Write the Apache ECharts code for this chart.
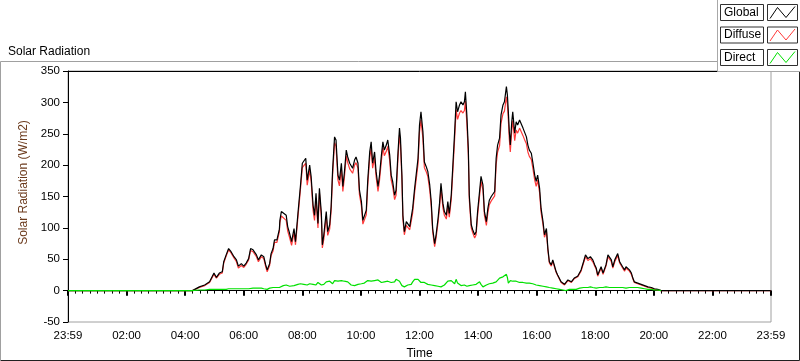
<!DOCTYPE html>
<html>
<head>
<meta charset="utf-8">
<script src="https://cdn.jsdelivr.net/npm/echarts@6/dist/echarts.min.js"></script>
<style>
  html, body { margin: 0; padding: 0; background: #fff; }
  #chart { width: 800px; height: 361px; }
</style>
</head>
<body>
<div id="chart"></div>
<script>
// ---- data (W/m2) ----
const times = [
  '00:00','04:15','04:29','04:40','04:50','04:59','05:04','05:10','05:16','05:19',
  '05:24','05:29','05:34','05:40','05:45','05:49','05:55','06:00','06:05','06:10',
  '06:14','06:19','06:26','06:30','06:36','06:41','06:45','06:48','06:53','06:56',
  '07:00','07:03','07:08','07:11','07:13','07:14','07:17','07:21','07:27','07:30',
  '07:34','07:38','07:43','07:46','07:51','07:56','08:00','08:03','08:07','08:10',
  '08:15','08:18','08:22','08:25','08:28','08:32','08:35','08:39','08:41','08:44',
  '08:49','08:52','08:56','08:59','09:02','09:06','09:09','09:13','09:16','09:20',
  '09:23','09:26','09:30','09:33','09:37','09:40','09:43','09:47','09:50','09:54',
  '09:57','10:01','10:04','10:07','10:11','10:14','10:18','10:21','10:24','10:28',
  '10:31','10:35','10:38','10:42','10:45','10:48','10:52','10:55','10:59','11:02',
  '11:05','11:09','11:12','11:16','11:19','11:21','11:24','11:26','11:29','11:33',
  '11:36','11:40','11:43','11:46','11:50','11:53','11:57','12:00','12:03','12:07',
  '12:10','12:14','12:17','12:21','12:24','12:27','12:31','12:34','12:38','12:41',
  '12:44','12:48','12:51','12:55','12:58','13:01','13:05','13:08','13:12','13:15',
  '13:18','13:22','13:25','13:29','13:32','13:34','13:37','13:40','13:42','13:46',
  '13:49','13:53','13:56','13:59','14:03','14:06','14:10','14:13','14:17','14:20',
  '14:23','14:27','14:30','14:34','14:37','14:40','14:44','14:47','14:51','14:54',
  '14:58','15:00','15:02','15:04','15:06','15:09','15:11','15:15','15:18','15:21',
  '15:25','15:28','15:32','15:35','15:39','15:42','15:45','15:49','15:52','15:56',
  '15:59','16:02','16:06','16:09','16:13','16:16','16:20','16:23','16:26','16:30',
  '16:33','16:37','16:40','16:43','16:47','16:50','16:54','16:57','17:00','17:04',
  '17:07','17:11','17:14','17:17','17:21','17:24','17:28','17:31','17:36','17:40',
  '17:45','17:50','17:55','17:59','18:02','18:05','18:09','18:12','18:16','18:19',
  '18:22','18:26','18:29','18:33','18:36','18:40','18:43','18:46','18:50','18:53',
  '18:56','19:00','19:03','19:07','19:10','19:14','19:17','19:20','19:27','19:34',
  '19:41','19:48','19:55','20:01','20:08','20:15','23:59'
];

const globalVals = [
  0,0,6,9,14,28,21,28,30,46,
  57,67,62,54,49,39,43,39,44,51,
  67,65,57,49,57,54,41,33,43,59,
  67,81,81,82,98,112,126,124,120,102,
  91,78,99,78,123,166,203,205,211,176,
  200,182,136,120,155,107,163,123,73,89,
  126,94,105,134,192,245,240,184,176,203,
  166,187,224,213,203,200,195,208,213,203,
  160,142,112,110,128,176,221,237,203,221,
  190,166,183,216,237,224,232,240,216,184,
  174,152,160,221,259,243,184,120,94,110,
  110,102,105,131,163,166,211,264,285,253,
  205,197,190,168,142,99,75,89,115,139,
  171,139,126,120,142,123,152,195,253,301,
  285,296,301,296,301,317,280,227,152,105,
  97,89,94,126,158,182,168,126,110,131,
  144,150,147,158,211,232,243,280,296,301,
  325,312,285,253,232,269,285,251,269,264,
  272,269,259,253,245,232,224,219,205,184,
  174,184,163,131,110,89,99,67,46,41,
  49,38,30,25,22,14,12,10,13,17,
  18,14,12,20,22,23,25,33,46,57,
  51,54,49,41,36,25,28,38,28,28,
  41,57,58,49,38,49,51,59,46,43,
  38,33,38,36,33,28,20,14,12,10,
  8,6,5,3,2,0,0
];

const diffuseVals = [
  0,0,5,8,13,26,20,26,28,44,
  55,65,60,52,46,36,40,37,42,49,
  64,62,54,46,54,51,38,30,40,56,
  63,77,77,78,94,108,119,116,112,95,
  84,72,93,73,117,160,196,196,203,168,
  192,175,128,112,147,100,155,116,68,82,
  119,88,98,127,184,236,230,176,167,194,
  158,179,215,204,194,192,187,200,204,195,
  153,135,106,104,121,168,212,227,195,212,
  182,158,175,207,228,215,222,230,207,176,
  166,145,152,212,248,233,176,114,89,104,
  104,97,99,124,156,158,202,253,272,242,
  196,189,182,160,135,94,70,84,109,132,
  163,132,120,114,135,117,145,186,242,288,
  273,283,287,283,287,302,267,217,145,100,
  92,84,89,120,151,174,160,120,104,124,
  137,143,140,151,201,221,231,267,282,286,
  309,297,272,241,221,256,271,239,256,251,
  259,256,247,241,234,221,214,209,196,176,
  166,176,156,125,105,85,94,64,44,39,
  47,36,29,24,21,13,11,9,12,16,
  17,13,11,19,21,22,24,31,44,54,
  48,51,46,39,34,23,26,36,26,26,
  39,54,55,46,36,46,48,56,44,41,
  36,31,36,34,31,26,19,13,11,9,
  7,5,4,2,1,0,0
];

// direct trace is hidden under the others after sunset, so it stops at 20:15
const directVals = [
  0,0,1,1,2,2,2,2,2,2,
  2,3,3,3,3,3,3,3,3,3,
  4,4,4,3,4,3,4,2,4,4,
  5,4,5,5,5,6,7,8,9,8,
  7,6,8,7,10,11,12,10,12,9,
  11,13,10,12,9,13,10,9,12,10,
  14,11,15,13,11,16,14,15,12,16,
  13,15,17,14,11,9,10,8,9,10,
  9,11,13,12,14,16,14,15,13,16,
  14,17,15,13,16,14,12,15,17,13,
  16,14,18,17,15,12,8,7,6,7,
  9,8,10,14,18,20,18,15,13,12,
  13,11,10,8,9,7,8,9,7,8,
  6,7,9,12,15,18,16,13,11,18,
  12,9,8,7,9,8,7,9,8,7,
  9,8,10,12,14,10,6,8,9,10,
  11,10,12,11,14,17,20,21,22,24,
  26,21,12,9,16,14,15,13,15,14,
  13,14,13,14,12,13,12,11,11,9,
  9,9,8,9,7,6,6,5,5,5,
  4,4,3,3,2,2,1,0,0,1,
  2,2,2,2,2,3,4,5,5,5,
  5,6,5,5,4,5,5,5,5,5,
  6,5,5,5,5,5,5,5,5,5,
  5,5,4,5,5,5,5,5,5,4,
  3,2,2,1,1,0,null
];

const xTickLabels = ['23:59','02:00','04:00','06:00','08:00','10:00','12:00',
                     '14:00','16:00','18:00','20:00','22:00','23:59'];
const legendNames = ['Global', 'Diffuse', 'Direct'];
const seriesColors = ['#000000', '#ff3a3a', '#00e000'];

// ---- helpers ----
const toMin = t => {
  const [h, m] = t.split(':').map(Number);
  return h * 60 + m;
};
const pairs = vals => times.map((t, i) => [toMin(t), vals[i]]);

const FONT = '"Liberation Sans", Arial, sans-serif';

const chart = echarts.init(document.getElementById('chart'), null, { renderer: 'canvas' });

// legend drawn LabVIEW-style: label box + zigzag swatch box
const legendGraphics = [
  { type: 'rect', shape: { x: 717.5, y: -1, width: 84, height: 72.5 },
    style: { fill: '#fff', stroke: '#a8a8a8', lineWidth: 1 }, z: 100 }
];
legendNames.forEach((name, i) => {
  const top = 4.5 + i * 22.5;
  legendGraphics.push(
    { type: 'rect', shape: { x: 720.5, y: top, width: 43, height: 16 },
      style: { fill: '#fff', stroke: '#303030', lineWidth: 1 }, z: 101 },
    { type: 'text', x: 724, y: top + 8,
      style: { text: name, fill: '#000', font: '12px ' + FONT, verticalAlign: 'middle' }, z: 102 },
    { type: 'rect', shape: { x: 767.5, y: top, width: 30, height: 16 },
      style: { fill: '#fff', stroke: '#303030', lineWidth: 1 }, z: 101 },
    { type: 'polyline', shape: { points: [[770, top + 14], [777.5, top + 3], [786, top + 13], [795, top + 2]] },
      style: { stroke: seriesColors[i], lineWidth: 1, fill: null }, z: 102 }
  );
});

const option = {
  backgroundColor: '#fff',
  animation: false,
  title: {
    text: 'Solar Radiation',
    left: 3, top: 41,
    textStyle: { fontFamily: FONT, fontSize: 12, fontWeight: 'normal', color: '#000' }
  },
  grid: {
    left: 68, top: 71, right: 29, bottom: 39,
    containLabel: false, outerBoundsMode: 'none',
    show: true, borderColor: '#a0a0a0', borderWidth: 1
  },
  xAxis: [{
    type: 'value',
    min: 0, max: 1440, interval: 120,
    name: 'Time', nameLocation: 'middle', nameGap: 26,
    nameTextStyle: { fontFamily: FONT, fontSize: 12, color: '#000' },
    axisLine: { show: true, lineStyle: { color: '#000', width: 1 } },
    axisTick: { show: true, length: 5, lineStyle: { color: '#000', width: 2 } },
    minorTick: { show: true, splitNumber: 8, length: 3, lineStyle: { color: '#000', width: 1 } },
    splitLine: { show: false },
    axisLabel: {
      margin: 8, color: '#000', fontFamily: FONT, fontSize: 11.5,
      formatter: v => xTickLabels[Math.round(v / 120)]
    }
  }, {
    type: 'value', position: 'top', min: 0, max: 1440,
    axisLine: { show: true, lineStyle: { color: '#000', width: 1 } },
    axisTick: { show: false }, axisLabel: { show: false }, splitLine: { show: false }
  }],
  yAxis: {
    type: 'value',
    min: -50, max: 350, interval: 50,
    name: 'Solar Radiation (W/m2)', nameLocation: 'middle', nameGap: 37,
    nameTextStyle: { fontFamily: FONT, fontSize: 12, color: '#6b3a1c', padding: [0, 0, 0, 28] },
    axisLine: { show: true, lineStyle: { color: '#000', width: 1 } },
    axisTick: { show: true, length: 5, lineStyle: { color: '#000' } },
    splitLine: { show: false },
    axisLabel: { margin: 8, color: '#000', fontFamily: FONT, fontSize: 11.5 }
  },
  series: [
    { name: 'Diffuse', type: 'line', data: pairs(diffuseVals), showSymbol: false,
      lineStyle: { color: seriesColors[1], width: 1.2 }, z: 2 },
    { name: 'Global', type: 'line', data: pairs(globalVals), showSymbol: false,
      lineStyle: { color: seriesColors[0], width: 1.2 }, z: 3 },
    { name: 'Direct', type: 'line', data: pairs(directVals), showSymbol: false,
      lineStyle: { color: seriesColors[2], width: 1.2 }, z: 4 }
  ],
  graphic: [
    // outer sunken frame
    { type: 'polyline', shape: { points: [[0.5, 360], [0.5, 61.5], [717, 61.5]] },
      style: { stroke: '#a0a0a0', lineWidth: 1, fill: null }, z: 50 },
    { type: 'polyline', shape: { points: [[0.5, 360.5], [799.5, 360.5], [799.5, 72]] },
      style: { stroke: '#202020', lineWidth: 1, fill: null }, z: 50 },
    ...legendGraphics
  ]
};

chart.setOption(option);
</script>
</body>
</html>
